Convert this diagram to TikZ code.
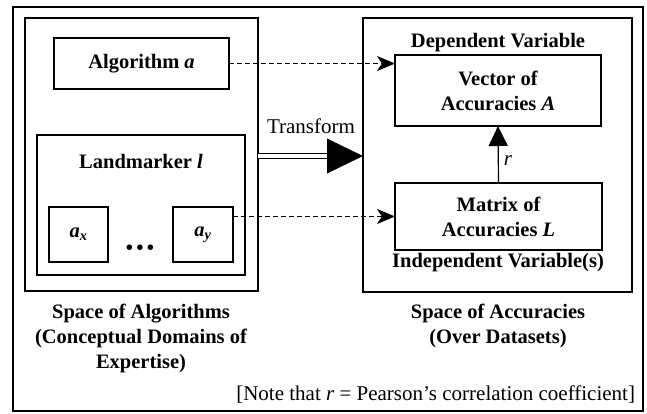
\documentclass[tikz,border=0pt]{standalone}
\usepackage{fontspec}
\setmainfont{Liberation Serif}
\usetikzlibrary{arrows.meta,calc}
\begin{document}
\begin{tikzpicture}[x=1pt,y=-1pt,
  every node/.style={inner sep=0pt,outer sep=0pt,font=\fontsize{20.5}{25}\selectfont\bfseries,align=center},
  bigbox/.style={draw,line width=2pt},
  box/.style={draw,line width=1.2pt},
  dasharrow/.style={dash pattern=on 5pt off 3pt,line width=0.9pt,-{Stealth[length=18pt,width=15pt,inset=5pt]}},
  lbl/.style={font=\fontsize{20.5}{25}\selectfont\bfseries},
  plain/.style={font=\fontsize{21}{25}\selectfont}
]
\useasboundingbox (0,0) rectangle (647,413);
\draw[line width=1.5pt] (13,7) rectangle (643,411);
% left side
\node[bigbox,minimum width=233pt,minimum height=273pt] (leftbox) at (141.5,154.5) {};
\node[box,minimum width=175pt,minimum height=51pt] (alg) at (141.5,63.5) {Algorithm \textit{a}};
\node[box,minimum width=208pt,minimum height=140pt] (land) at (141,205) {};
\node (landlbl) at (141,161) {Landmarker \textit{l}};
\node[box,minimum width=59pt,minimum height=55pt] (ax) at (78.5,234.5) {\textit{a\textsubscript{x}}};
\node[box,minimum width=60pt,minimum height=55pt] (ay) at (203,234.5) {\textit{a\textsubscript{y}}};
\node (dots) at (140,250) {\textbullet\,\textbullet\,\textbullet};
\node[lbl] (spalg) at (141,338) {Space of Algorithms\\(Conceptual Domains of\\Expertise)};
% right side
\node[bigbox,minimum width=269pt,minimum height=274pt] (rightbox) at (497.5,155) {};
\node (dep) at (498,43) {Dependent Variable};
\node[box,minimum width=206pt,minimum height=71pt] (vec) at (498,90.5) {Vector of\\Accuracies \textit{A}};
\node[box,minimum width=207pt,minimum height=67pt] (mat) at (498.5,216.5) {Matrix of\\Accuracies \textit{L}};
\node (indep) at (498,263) {Independent Variable(s)};
\node[lbl] (spacc) at (498,326) {Space of Accuracies\\(Over Datasets)};
% note
\node[plain,anchor=east] (note) at (635,395) {[Note that \textit{r} = Pearson’s correlation coefficient]};
% connectors
\draw[dasharrow] (alg.east) -- (vec.west |- alg.east);
\draw[dasharrow] (ay.east |- mat.west) -- (mat.west);
\draw[line width=1.2pt,-{Triangle[length=20pt,width=19pt]}] (mat.north) -- (vec.south);
\node[font=\fontsize{21}{25}\selectfont\itshape] (rlbl) at (508,161) {r};
\coordinate (tstart) at ($(leftbox.east)+(0,1.5)$);
\coordinate (tend) at ($(rightbox.west)+(0,1)$);
\coordinate (tbase) at ($(tend)+(-36,0)$);
\draw[line width=1.5pt,double distance=3.5pt] (tstart) -- (tbase);
\fill (tend) -- ($(tbase)+(0,-17.5)$) -- ($(tbase)+(0,17.5)$) -- cycle;
\node[plain] (tlbl) at (311,126) {Transform};
\end{tikzpicture}
\end{document}
